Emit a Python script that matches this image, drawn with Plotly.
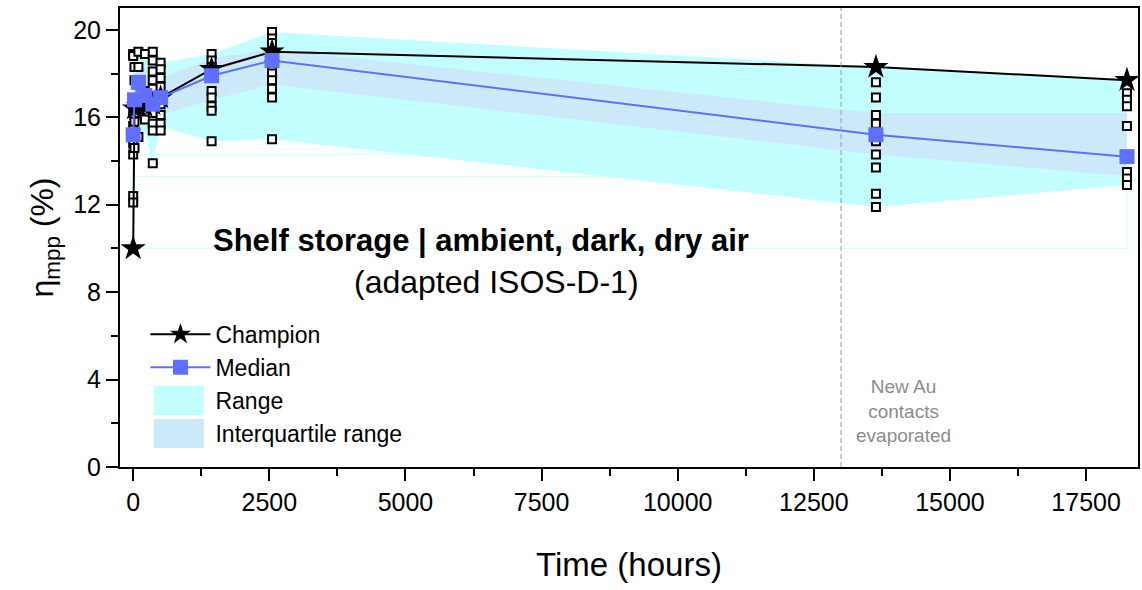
import plotly.graph_objects as go

# ---------------- data ----------------
time_h = [0, 24, 96, 216, 360, 504, 1440, 2550, 13640, 18250]
champion = [10.0, 16.4, 16.5, 16.5, 16.6, 16.9, 18.2, 19.0, 18.3, 17.7]
median = [15.2, 16.8, 17.6, 17.0, 16.6, 16.9, 17.9, 18.6, 15.2, 14.2]
range_min = [14.3, 14.6, 15.1, 15.3, 13.9, 15.6, 14.9, 15.0, 11.9, 12.9]
range_max = [18.9, 18.8, 19.0, 18.7, 19.0, 18.5, 18.9, 19.9, 18.3, 17.7]
iqr_low = [14.8, 15.6, 16.2, 16.0, 15.8, 16.1, 16.8, 17.5, 14.3, 13.3]
iqr_high = [16.8, 17.8, 18.4, 18.2, 18.0, 17.8, 18.7, 19.1, 16.2, 16.2]

devices = [
    [18.9, 18.8, 16.8, 16.2, 15.6, 14.8, 14.3, 12.4, 12.1],
    [18.3, 17.7, 16.1, 15.8, 15.1, 14.6],
    [19.0, 18.3, 17.5, 16.2, 15.1],
    [18.9, 17.2, 16.5, 15.9],
    [19.0, 18.6, 18.1, 17.7, 17.3, 16.2, 15.7, 15.4, 13.9],
    [18.5, 18.2, 17.8, 17.4, 16.6, 16.1, 15.7, 15.4],
    [18.9, 18.6, 18.3, 17.2, 16.9, 16.5, 16.3, 14.9],
    [19.9, 19.6, 19.4, 18.3, 18.0, 17.7, 17.3, 16.9, 15.0],
    [17.6, 16.9, 16.1, 15.7, 14.9, 14.3, 13.7, 12.5, 11.9],
    [17.1, 16.8, 16.5, 15.6, 13.5, 13.2, 12.9],
]

evap_time = 13000
x_ticks = [0, 2500, 5000, 7500, 10000, 12500, 15000, 17500]
x_tick_text = ["0", "2500", "5000", "7500", "10000", "12500", "15000", "17500"]
y_ticks = [0, 4, 8, 12, 16, 20]
y_tick_text = ["0", "4", "8", "12", "16", "20"]

FONT = "Arial, 'Liberation Sans', sans-serif"
RANGE_C = "#C4FFFF"
IQR_C = "#CCE9FA"
MED_C = "#5F6FFF"

dev_x = [t for t, vals in zip(time_h, devices) for _ in vals]
dev_y = [v for vals in devices for v in vals]

fig = go.Figure()

# range band
fig.add_trace(go.Scatter(x=time_h, y=range_min, mode="lines", line=dict(width=0),
                         showlegend=False, hoverinfo="skip"))
fig.add_trace(go.Scatter(x=time_h, y=range_max, mode="lines", line=dict(width=0),
                         fill="tonexty", fillcolor=RANGE_C, showlegend=False))
# IQR band
fig.add_trace(go.Scatter(x=time_h, y=iqr_low, mode="lines", line=dict(width=0),
                         showlegend=False, hoverinfo="skip"))
fig.add_trace(go.Scatter(x=time_h, y=iqr_high, mode="lines", line=dict(width=0),
                         fill="tonexty", fillcolor=IQR_C, showlegend=False))

# legend-only entries for the bands (swatches drawn as shapes below)
fig.add_trace(go.Scatter(x=[None], y=[None], mode="lines", line=dict(width=0, color=RANGE_C),
                         name="Range", legendrank=3))
fig.add_trace(go.Scatter(x=[None], y=[None], mode="lines", line=dict(width=0, color=IQR_C),
                         name="Interquartile range", legendrank=4))

# individual devices
fig.add_trace(go.Scatter(x=dev_x, y=dev_y, mode="markers", showlegend=False,
                         marker=dict(symbol="square", size=8, color="white",
                                     line=dict(color="black", width=2))))

# champion
fig.add_trace(go.Scatter(x=time_h, y=champion, mode="lines+markers", name="Champion",
                         legendrank=1,
                         line=dict(color="black", width=2),
                         marker=dict(symbol="star", size=19, color="black")))
# median
fig.add_trace(go.Scatter(x=time_h, y=median, mode="lines+markers", name="Median",
                         legendrank=2,
                         line=dict(color=MED_C, width=2),
                         marker=dict(symbol="square", size=15, color=MED_C)))

# evaporation marker line
fig.add_shape(type="line", x0=evap_time, x1=evap_time, y0=0, y1=1, yref="paper",
              line=dict(color="#999999", width=1, dash="5px,3px"))

# faint outline artefacts
fig.add_shape(type="rect", x0=time_h[0], x1=time_h[-1], y0=10, y1=14.3,
              line=dict(color="#D6FCFF", width=1), layer="below")
fig.add_shape(type="line", x0=time_h[1], x1=time_h[-1], y0=13.3, y1=13.3,
              line=dict(color="#D6FCFF", width=1), layer="below")

# legend swatches for the two bands
fig.add_shape(type="rect", xref="paper", yref="paper", x0=0.0333, x1=0.0824,
              y0=0.1133, y1=0.1765, line=dict(width=0), fillcolor=RANGE_C)
fig.add_shape(type="rect", xref="paper", yref="paper", x0=0.0333, x1=0.0824,
              y0=0.0414, y1=0.1046, line=dict(width=0), fillcolor=IQR_C)

fig.add_annotation(x=0.3544, y=0.4924, xref="paper", yref="paper", showarrow=False,
                   xanchor="center", yanchor="middle",
                   text="<b>Shelf storage | ambient, dark, dry air</b>",
                   font=dict(size=31, color="black", family=FONT))
fig.add_annotation(x=0.3696, y=0.402, xref="paper", yref="paper", showarrow=False,
                   xanchor="center", yanchor="middle",
                   text="(adapted ISOS-D-1)",
                   font=dict(size=32, color="black", family=FONT))
fig.add_annotation(x=0.77, y=0.122, xref="paper", yref="paper", showarrow=False,
                   xanchor="center", yanchor="middle",
                   text="New Au<br>contacts<br>evaporated",
                   font=dict(size=19, color="#8C8C8C", family=FONT))

fig.update_layout(
    width=1142, height=590,
    margin=dict(l=120, r=2, t=8, b=123),
    paper_bgcolor="white", plot_bgcolor="white",
    font=dict(family=FONT, color="black", size=22),
    legend=dict(x=0.025, y=0.336, xanchor="left", yanchor="top",
                bgcolor="rgba(0,0,0,0)", font=dict(size=23), itemwidth=60,
                tracegroupgap=0, traceorder="normal"),
    xaxis=dict(range=[-242, 18453], tickvals=x_ticks, ticktext=x_tick_text,
               showgrid=False, zeroline=False,
               showline=True, linecolor="black", linewidth=2, mirror=True,
               ticks="outside", ticklen=12, tickwidth=2, tickcolor="black",
               tickfont=dict(size=25),
               minor=dict(dtick=1250, tick0=0, ticks="outside", ticklen=7, tickwidth=2,
                          tickcolor="black"),
               title=dict(text="Time (hours)", font=dict(size=33), standoff=38)),
    yaxis=dict(range=[0, 21], tickvals=y_ticks, ticktext=y_tick_text,
               showgrid=False, zeroline=False,
               showline=True, linecolor="black", linewidth=2, mirror=True,
               ticks="outside", ticklen=12, tickwidth=2, tickcolor="black",
               tickfont=dict(size=25),
               minor=dict(dtick=2, tick0=0, ticks="outside", ticklen=7, tickwidth=2,
                          tickcolor="black"),
               title=dict(text="η<sub>mpp</sub> (%)", font=dict(size=32), standoff=10)),
)

fig.write_html("out.html")
